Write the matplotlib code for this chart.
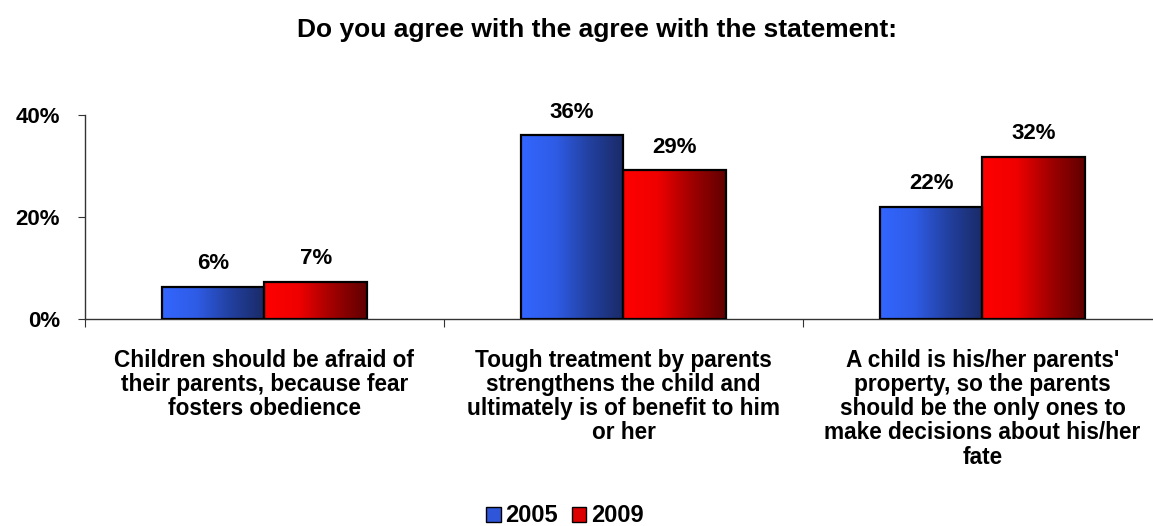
import numpy as np
import matplotlib
matplotlib.use("Agg")
import matplotlib.pyplot as plt
from matplotlib.colors import LinearSegmentedColormap
from matplotlib.patches import Patch

categories = [
    "Children should be afraid of\ntheir parents, because fear\nfosters obedience",
    "Tough treatment by parents\nstrengthens the child and\nultimately is of benefit to him\nor her",
    "A child is his/her parents'\nproperty, so the parents\nshould be the only ones to\nmake decisions about his/her\nfate",
]
years = ["2005", "2009"]
vals_2005 = [6.3, 36.0, 22.0]
vals_2009 = [7.3, 29.2, 31.8]

plt.rcParams['font.family'] = ['Liberation Sans', 'DejaVu Sans']
plt.rcParams['font.weight'] = 'bold'

cmaps = [
    LinearSegmentedColormap.from_list("b", ["#3366ff", "#2f5ce6", "#22409f", "#1a2a66"]),
    LinearSegmentedColormap.from_list("r", ["#ff0000", "#f00000", "#a00000", "#600000"]),
]

fig = plt.figure(figsize=(11.53, 5.26), dpi=100)
ax = fig.add_axes([85 / 1153, 1 - 319 / 526, (1153 - 85) / 1153, 204 / 526])

x = np.arange(len(categories))
w = 0.286
grad = np.linspace(0, 1, 256).reshape(1, -1)
for k, vals in enumerate([vals_2005, vals_2009]):
    offs = (k - 0.5) * w
    bars = ax.bar(x + offs, vals, w, facecolor="none", edgecolor="black", linewidth=1.6, zorder=3)
    for b, v in zip(bars, vals):
        x0 = b.get_x()
        ax.imshow(grad, cmap=cmaps[k], aspect="auto", extent=[x0, x0 + w, 0, v],
                  zorder=2, interpolation="bicubic")
        ax.annotate(f"{v:.0f}%", (x0 + w / 2, v), xytext=(0, 9), textcoords="offset points",
                    ha="center", va="bottom", fontsize=16, fontweight="bold")

ax.set_xlim(-0.5, 2.475)
ax.set_ylim(0, 40)
ax.set_yticks([0, 20, 40])
ax.set_yticklabels(["0%", "20%", "40%"], fontsize=16, fontweight="bold")
ax.set_xticks([-0.5, 0.5, 1.5])
ax.set_xticklabels([])
ax.tick_params(axis="x", direction="out", length=6, color="#333333")
ax.tick_params(axis="y", direction="out", length=5, color="#333333", pad=13)
for s in ["top", "right"]:
    ax.spines[s].set_visible(False)
for s in ["left", "bottom"]:
    ax.spines[s].set_color("#333333")
    ax.spines[s].set_linewidth(1)

for i, c in enumerate(categories):
    ax.text(i, -0.145, c, transform=ax.get_xaxis_transform(), ha="center", va="top",
            fontsize=16.3, fontweight="bold", linespacing=1.07)

fig.text(0.518, 1 - 30 / 526, "Do you agree with the agree with the statement:",
         ha="center", va="center", fontsize=19, fontweight="bold")

handles = [Patch(facecolor="#2f55d8", edgecolor="black", label=years[0]),
           Patch(facecolor="#dd0000", edgecolor="black", label=years[1])]
fig.legend(handles=handles, loc="center", bbox_to_anchor=(0.49, 1 - 516 / 526), ncol=2,
           frameon=False, handlelength=0.6, handleheight=0.6,
           handletextpad=0.2, columnspacing=0.6, borderpad=0.1,
           prop={"weight": "bold", "size": 17})

fig.savefig("out.png", dpi=100)
